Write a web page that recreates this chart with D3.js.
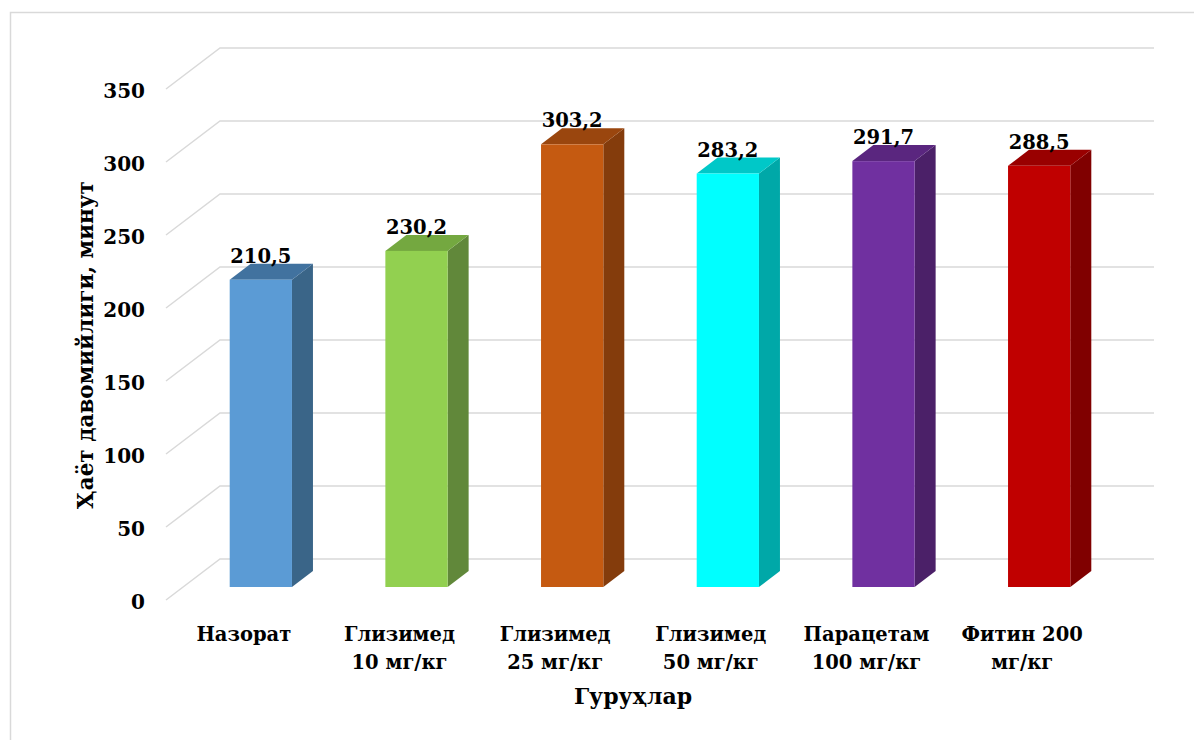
<!DOCTYPE html>
<html>
<head>
<meta charset="utf-8">
<script src="https://cdn.jsdelivr.net/npm/d3@7"></script>
<style>
body { margin: 0; background: #fff; }
text { font-family: "DejaVu Serif", serif; font-weight: bold; fill: #000; }
</style>
</head>
<body>
<svg id="chart" width="1194" height="740"></svg>
<script>
const groups = [["Назорат"], ["Глизимед", "10 мг/кг"], ["Глизимед", "25 мг/кг"], ["Глизимед", "50 мг/кг"], ["Парацетам", "100 мг/кг"], ["Фитин 200", "мг/кг"]];
const values = [210.5, 230.2, 303.2, 283.2, 291.7, 288.5];
const frontColors = ["#5B9BD5", "#92D050", "#C55A11", "#00FFFF", "#7030A0", "#C00000"];
const sideColors = ["#3A6588", "#61883A", "#843C0C", "#00A8A8", "#4B2068", "#800000"];
const topColors = ["#41729F", "#74A840", "#9A460E", "#00C8C8", "#5A267F", "#990000"];
const yTicks = [0, 50, 100, 150, 200, 250, 300, 350];

const svg = d3.select("#chart");

// frame
svg.append("rect")
.attr("x", 10.5).attr("y", 12.5)
.attr("width", 1200).attr("height", 740)
.attr("fill", "none")
.attr("stroke", "#D9D9D9")
.attr("stroke-width", 1.5);

// back wall scale
let y = d3.scaleLinear().domain([0, 350]).range([559, 48]);
const wallX0 = 220, wallX1 = 1154;
const floorDx = -54, floorDy = 41;   // front edge of floor
const barDx = -37, barDy = 28;       // front face of bars
const depthDx = 21, depthDy = -16;   // bar depth

let x = d3.scaleBand()
.domain(d3.range(values.length))
.range([wallX0 + barDx, wallX1 + barDx])
.paddingInner(0.6)
.paddingOuter(0.3);

// gridlines
let grid = svg.append("g").attr("stroke", "#D9D9D9").attr("stroke-width", 1.5).attr("fill", "none");
grid.selectAll("polyline")
.data(yTicks)
.join("polyline")
.attr("points", d => [
	[wallX0 + floorDx, y(d) + floorDy],
	[wallX0, y(d)],
	[wallX1, y(d)]
].join(" "));

// tick labels
svg.selectAll(".tick")
.data(yTicks)
.join("text")
.attr("class", "tick")
.attr("x", 145)
.attr("y", d => y(d) + floorDy + 9)
.style("text-anchor", "end")
.style("font-size", "20px")
.text(d => d);

// bars
let bars = svg.selectAll(".bar")
.data(values)
.join("g")
.attr("class", "bar");

bars.each(function(d, i) {
	let g = d3.select(this);
	let x0 = x(i), x1 = x(i) + x.bandwidth();
	let yb = y(0) + barDy, yt = y(d) + barDy;

	g.append("polygon")
	.attr("points", [[x1, yt], [x1 + depthDx, yt + depthDy], [x1 + depthDx, yb + depthDy], [x1, yb]].join(" "))
	.attr("fill", sideColors[i]);

	g.append("polygon")
	.attr("points", [[x0, yt], [x0 + depthDx, yt + depthDy], [x1 + depthDx, yt + depthDy], [x1, yt]].join(" "))
	.attr("fill", topColors[i]);

	g.append("rect")
	.attr("x", x0)
	.attr("y", yt)
	.attr("width", x.bandwidth())
	.attr("height", yb - yt)
	.attr("fill", frontColors[i]);

	g.append("text")
	.attr("x", x0 + x.bandwidth() / 2)
	.attr("y", yt - 17)
	.style("text-anchor", "middle")
	.style("font-size", "19.5px")
	.text(d3.format(".1f")(d).replace(".", ","));
});

// category labels
let cat = svg.selectAll(".cat")
.data(groups)
.join("text")
.attr("class", "cat")
.attr("x", (d, i) => x(i) + x.bandwidth() / 2 + (floorDx - barDx))
.attr("y", 641)
.style("text-anchor", "middle")
.style("font-size", "19.5px");

cat.selectAll("tspan")
.data(d => d)
.join("tspan")
.attr("x", function() { return d3.select(this.parentNode).attr("x"); })
.attr("dy", (d, i) => i == 0 ? 0 : 28)
.text(d => d);

// axis titles
svg.append("text")
.attr("x", 633)
.attr("y", 704)
.style("text-anchor", "middle")
.style("font-size", "22px")
.text("Гуруҳлар");

svg.append("text")
.attr("transform", "translate(93, 345) rotate(-90)")
.style("text-anchor", "middle")
.style("font-size", "21.5px")
.text("Ҳаёт давомийлиги, минут");
</script>
</body>
</html>
